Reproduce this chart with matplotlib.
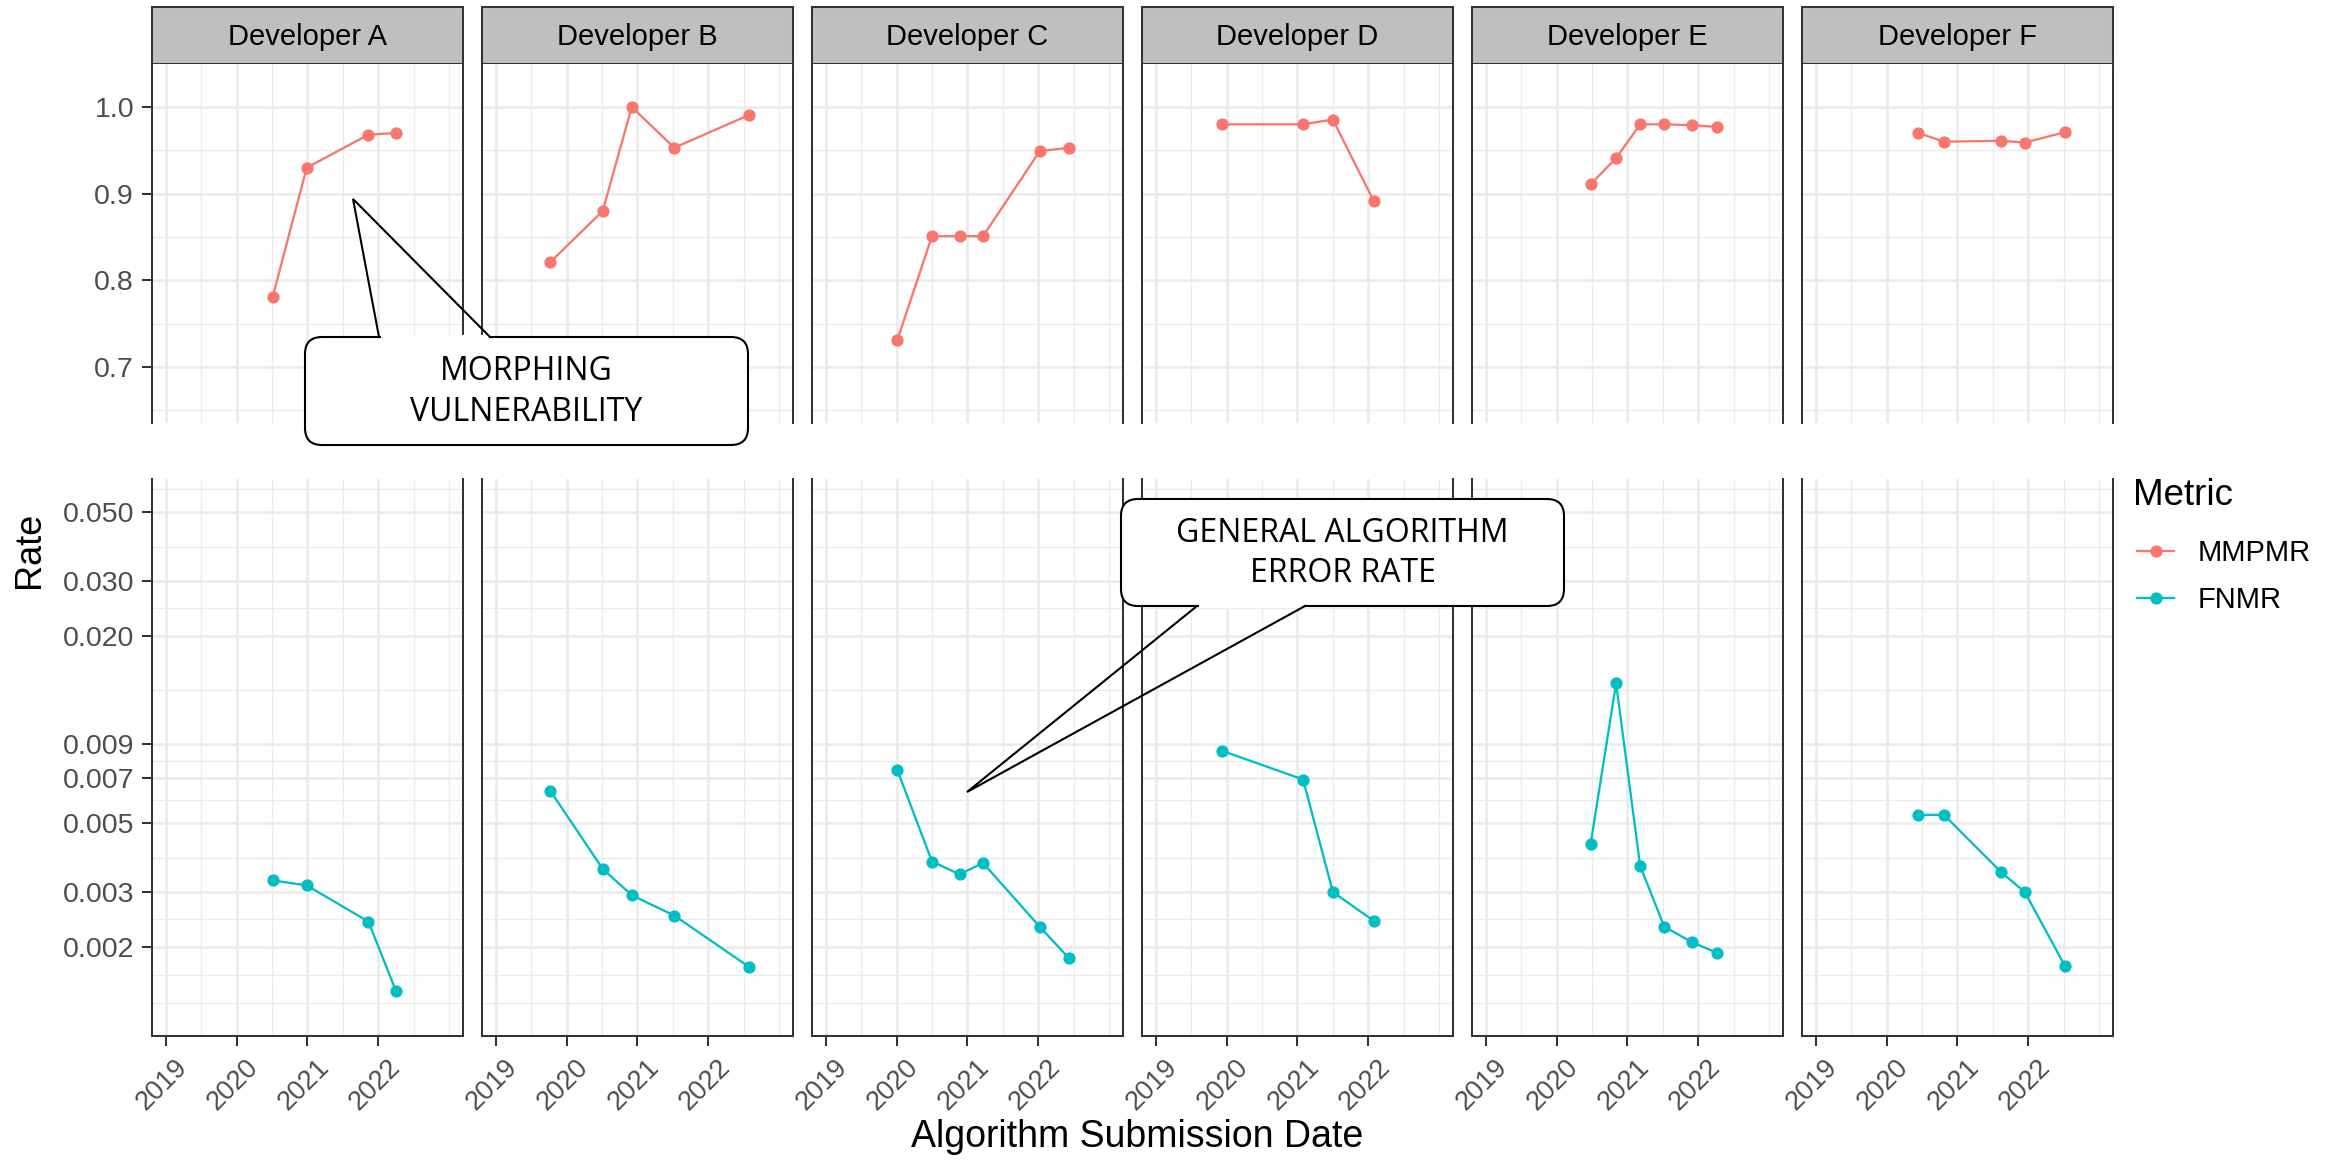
import matplotlib
matplotlib.use("Agg")
import matplotlib.pyplot as plt
from matplotlib.patches import FancyBboxPatch
from matplotlib.ticker import FixedLocator, FixedFormatter, NullFormatter
from matplotlib.lines import Line2D
from matplotlib.transforms import ScaledTranslation

plt.rcParams['font.family'] = ['Liberation Sans', 'DejaVu Sans']

# ---------------- data ----------------
developers = ["Developer A", "Developer B", "Developer C",
              "Developer D", "Developer E", "Developer F"]

dates_A = [2020.51, 2020.99, 2021.86, 2022.25]
mmpmr_A = [0.781, 0.930, 0.968, 0.970]
fnmr_A = [0.00327, 0.00315, 0.00241, 0.00144]

dates_B = [2019.77, 2020.51, 2020.92, 2021.52, 2022.58]
mmpmr_B = [0.821, 0.880, 1.000, 0.953, 0.991]
fnmr_B = [0.00635, 0.00356, 0.00293, 0.00252, 0.00172]

dates_C = [2020.01, 2020.50, 2020.89, 2021.22, 2022.02, 2022.43]
mmpmr_C = [0.731, 0.851, 0.851, 0.851, 0.949, 0.953]
fnmr_C = [0.00741, 0.00376, 0.00342, 0.00372, 0.00232, 0.00184]

dates_D = [2019.94, 2021.08, 2021.50, 2022.08]
mmpmr_D = [0.980, 0.980, 0.9855, 0.891]
fnmr_D = [0.00853, 0.00690, 0.00300, 0.00242]

dates_E = [2020.48, 2020.84, 2021.18, 2021.52, 2021.91, 2022.27]
mmpmr_E = [0.911, 0.941, 0.980, 0.980, 0.979, 0.977]
fnmr_E = [0.00427, 0.01406, 0.00364, 0.00232, 0.00207, 0.00191]

dates_F = [2020.45, 2020.81, 2021.62, 2021.95, 2022.52]
mmpmr_F = [0.970, 0.960, 0.961, 0.959, 0.971]
fnmr_F = [0.00531, 0.00531, 0.00347, 0.00300, 0.00173]

all_dates = [dates_A, dates_B, dates_C, dates_D, dates_E, dates_F]
all_mmpmr = [mmpmr_A, mmpmr_B, mmpmr_C, mmpmr_D, mmpmr_E, mmpmr_F]
all_fnmr = [fnmr_A, fnmr_B, fnmr_C, fnmr_D, fnmr_E, fnmr_F]

metrics = ["MMPMR", "FNMR"]
metric_colors = ["#F8766D", "#00BFC4"]

year_ticks = [2019, 2020, 2021, 2022]
year_labels = ["2019", "2020", "2021", "2022"]
year_minor = [2019.5, 2020.5, 2021.5, 2022.5, 2023.0]

top_ticks = [0.7, 0.8, 0.9, 1.0]
top_labels = ["0.7", "0.8", "0.9", "1.0"]
top_minor = [0.65, 0.75, 0.85, 0.95, 1.05]

low_ticks = [0.002, 0.003, 0.005, 0.007, 0.009, 0.02, 0.03, 0.05]
low_labels = ["0.002", "0.003", "0.005", "0.007", "0.009", "0.020", "0.030", "0.050"]
low_minor = [0.00132, 0.00162, 0.00245, 0.00387, 0.00592, 0.00794, 0.0134, 0.0245, 0.0387, 0.0592]

# ---------------- layout ----------------
W, H = 2339, 1163
DPI = 100
fig = plt.figure(figsize=(W / DPI, H / DPI), dpi=DPI, facecolor='white')


def fax(x0, y0, x1, y1, **kw):
    return fig.add_axes([x0 / W, 1 - y1 / H, (x1 - x0) / W, (y1 - y0) / H], **kw)


XLIM = (2018.803, 2023.195)
TOP_YLIM = (0.6355, 1.0496)
LOW_YLIM = (0.001033, 0.06384)

SPINE = '#333333'
GRID = '#EBEBEB'
TICKLAB = '#4D4D4D'
LW_SPINE = 1.45
TSIZE = 20.5

panel_w = 311.3
lefts = [151.7 + i * 330.0 for i in range(6)]
strip_y = (7, 64)
top_y = (64, 423)
low_y = (479, 1036)


def style_grid(ax):
    ax.set_axisbelow(True)
    ax.grid(which='major', color=GRID, lw=1.9)
    ax.grid(which='minor', color=GRID, lw=0.95)
    ax.set_facecolor('white')
    for s in ax.spines.values():
        s.set_color(SPINE)
        s.set_linewidth(LW_SPINE)
    ax.tick_params(which='major', length=7.2, width=LW_SPINE, color=SPINE,
                   labelcolor=TICKLAB, labelsize=TSIZE, pad=5.5)
    ax.tick_params(which='minor', length=0)


xshift = ScaledTranslation(9 / DPI, 0, fig.dpi_scale_trans)

for i, dev in enumerate(developers):
    L = lefts[i]
    R = L + panel_w

    # strip
    sax = fax(L, strip_y[0], R, strip_y[1])
    sax.set_facecolor('#BFBFBF')
    sax.set_xticks([])
    sax.set_yticks([])
    for s in sax.spines.values():
        s.set_color(SPINE)
        s.set_linewidth(LW_SPINE)
    sax.text(0.5, 0.47, dev, transform=sax.transAxes, ha='center', va='center',
             fontsize=21, color='black')

    # top panel (MMPMR)
    tax = fax(L, top_y[0], R, top_y[1])
    style_grid(tax)
    tax.spines['bottom'].set_visible(False)
    tax.spines['top'].set_visible(False)
    tax.set_xlim(*XLIM)
    tax.set_ylim(*TOP_YLIM)
    tax.xaxis.set_major_locator(FixedLocator(year_ticks))
    tax.xaxis.set_minor_locator(FixedLocator(year_minor))
    tax.tick_params(axis='x', which='both', length=0, labelbottom=False)
    tax.yaxis.set_major_locator(FixedLocator(top_ticks))
    tax.yaxis.set_major_formatter(FixedFormatter(top_labels))
    tax.yaxis.set_minor_locator(FixedLocator(top_minor))
    tax.plot(all_dates[i], all_mmpmr[i], color=metric_colors[0], lw=1.65,
             marker='o', ms=7.8, clip_on=False, zorder=3)

    # lower panel (FNMR, log)
    lax = fax(L, low_y[0], R, low_y[1])
    style_grid(lax)
    lax.spines['top'].set_visible(False)
    lax.set_yscale('log')
    lax.set_xlim(*XLIM)
    lax.set_ylim(*LOW_YLIM)
    lax.xaxis.set_major_locator(FixedLocator(year_ticks))
    lax.xaxis.set_major_formatter(FixedFormatter(year_labels))
    lax.xaxis.set_minor_locator(FixedLocator(year_minor))
    lax.yaxis.set_major_locator(FixedLocator(low_ticks))
    lax.yaxis.set_major_formatter(FixedFormatter(low_labels))
    lax.yaxis.set_minor_locator(FixedLocator(low_minor))
    lax.yaxis.set_minor_formatter(NullFormatter())
    lax.tick_params(axis='x', which='major', pad=6.1, labelsize=19.5)
    if i > 0:
        tax.tick_params(axis='y', which='both', length=0, labelleft=False)
        lax.tick_params(axis='y', which='both', length=0, labelleft=False)
    for lab in lax.get_xticklabels():
        lab.set_rotation(45)
        lab.set_ha('right')
        lab.set_va('top')
        lab.set_rotation_mode('anchor')
        lab.set_transform(lab.get_transform() + xshift)
    lax.plot(all_dates[i], all_fnmr[i], color=metric_colors[1], lw=1.65,
             marker='o', ms=7.8, zorder=3)

# axis titles
fig.text(30 / W, 1 - 550 / H, "Rate", rotation=90, ha='center', va='center',
         fontsize=26, color='black')
fig.text(1137 / W, 1 - 1137 / H, "Algorithm Submission Date", ha='center',
         va='center', fontsize=27, color='black')

# legend
fig.text(2133 / W, 1 - 495 / H, "Metric", ha='left', va='center',
         fontsize=26.5, color='black')
leg_handles = [Line2D([0], [0], color=c, lw=1.65, marker='o', ms=7.8) for c in metric_colors]
leg = fig.legend(leg_handles, metrics, loc='center left',
                 bbox_to_anchor=(2137 / W, 1 - 576.5 / H), frameon=False,
                 fontsize=21, handlelength=1.28, handletextpad=0.8,
                 labelspacing=0.65, borderpad=0, borderaxespad=0)

# ---------------- callouts ----------------
ov = fax(0, 0, W, H, zorder=10)
ov.set_xlim(0, W)
ov.set_ylim(H, 0)
ov.axis('off')
ov.patch.set_alpha(0)


def callout(x0, y0, x1, y1, b0, b1, tip, side, text):
    box = FancyBboxPatch((x0, y0), x1 - x0, y1 - y0,
                         boxstyle="round,pad=0,rounding_size=17",
                         fc='white', ec='black', lw=1.5)
    ov.add_patch(box)
    yb = y0 if side == 'top' else y1
    ov.plot([b0 + 1.5, b1 - 1.5], [yb, yb], color='white', lw=3, solid_capstyle='butt')
    ov.plot([b0, tip[0], b1], [yb, tip[1], yb], color='black', lw=1.5,
            solid_joinstyle='miter')
    ov.text((x0 + x1) / 2, (y0 + y1) / 2 + 1, text, ha='center', va='center',
            fontsize=23, family=['Open Sans', 'DejaVu Sans'], color='black',
            linespacing=1.3)


callout(305, 337, 748, 445, 379, 490, (353, 199), 'top', "MORPHING\nVULNERABILITY")
callout(1121, 499, 1564, 606, 1197, 1305, (967, 792), 'bottom', "GENERAL ALGORITHM\nERROR RATE")

fig.savefig("out.png", dpi=DPI, facecolor='white')
